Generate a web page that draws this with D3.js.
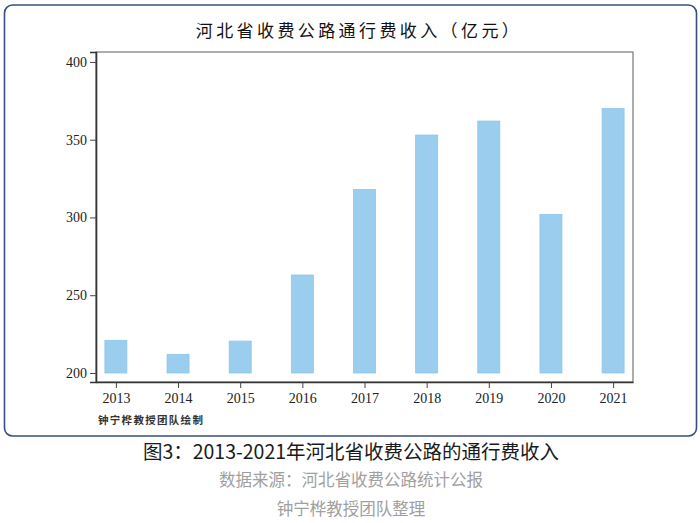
<!doctype html>
<html lang="zh">
<head>
<meta charset="utf-8">
<script src="https://cdn.jsdelivr.net/npm/d3@7"></script>
<style>
    body { margin: 0; background: #fff; }
    svg { display: block; }
    .tick text { font-family: "Liberation Serif", "DejaVu Serif", serif; font-size: 14px; fill: #222; }
</style>
</head>
<body>
<div id="chart"></div>
<script>
    // data
    var years = ["2013", "2014", "2015", "2016", "2017", "2018", "2019", "2020", "2021"];
    var revenue = [221, 212, 220.5, 263, 318, 353, 362, 302, 370];
    var yTicks = [200, 250, 300, 350, 400];

    var W = 700, H = 523;
    var plot = {left: 96, right: 633, top: 52, bottom: 382};

    var svg = d3.select("#chart").append("svg")
        .attr("width", W)
        .attr("height", H);

    // outer rounded frame
    svg.append("rect")
        .attr("x", 4.5).attr("y", 5)
        .attr("width", 692).attr("height", 431)
        .attr("rx", 8).attr("ry", 8)
        .attr("fill", "none")
        .attr("stroke", "#3b4f7c")
        .attr("stroke-width", 1.6);

    svg.append("text")
        .attr("x", 359).attr("y", 37)
        .attr("text-anchor", "middle")
        .attr("font-family", "Noto Sans CJK SC")
        .attr("font-size", 17)
        .attr("letter-spacing", 3.4)
        .attr("fill", "#111")
        .text("河北省收费公路通行费收入（亿元）");

    var x = d3.scalePoint()
        .domain(years)
        .range([plot.left, plot.right])
        .padding(0.32);

    var y = d3.scaleLinear()
        .domain([194.2, 406.4])
        .range([plot.bottom, plot.top]);

    // plot box: top/right lighter
    svg.append("rect")
        .attr("x", plot.left).attr("y", plot.top)
        .attr("width", plot.right - plot.left)
        .attr("height", plot.bottom - plot.top)
        .attr("fill", "none")
        .attr("stroke", "#777")
        .attr("stroke-width", 1.2);

    svg.append("g")
        .selectAll("rect")
        .data(revenue)
        .join("rect")
        .attr("x", (d, i) => x(years[i]) - 11)
        .attr("y", d => y(d))
        .attr("width", 22)
        .attr("height", d => y(200) - y(d))
        .attr("fill", "#9bcdee")
        .attr("stroke", "#8ec4ea")
        .attr("stroke-width", 0.8);

    var yAxis = svg.append("g")
        .attr("transform", "translate(" + plot.left + ",0)")
        .call(d3.axisLeft(y).tickValues(yTicks).tickSize(6).tickPadding(3));
    yAxis.select(".domain").attr("stroke", "#333").attr("stroke-width", 1.6);
    yAxis.selectAll(".tick line").attr("stroke", "#444");

    var xAxis = svg.append("g")
        .attr("transform", "translate(0," + plot.bottom + ")")
        .call(d3.axisBottom(x).tickSize(6).tickPadding(5).tickSizeOuter(0));
    xAxis.select(".domain").attr("stroke", "#333").attr("stroke-width", 1.6);
    xAxis.selectAll(".tick line").attr("stroke", "#444");

    svg.append("text")
        .attr("x", 98).attr("y", 424)
        .attr("font-family", "Noto Sans CJK SC")
        .attr("font-weight", "bold")
        .attr("font-size", 10.5)
        .attr("letter-spacing", 1.3)
        .attr("fill", "#333")
        .text("钟宁桦教授团队绘制");

    svg.append("text")
        .attr("x", 351).attr("y", 459)
        .attr("text-anchor", "middle")
        .attr("font-family", "Noto Sans CJK SC")
        .attr("font-size", 19.5)
        .attr("fill", "#1a1a1a")
        .text("图3：2013-2021年河北省收费公路的通行费收入");

    svg.append("text")
        .attr("x", 351).attr("y", 486)
        .attr("text-anchor", "middle")
        .attr("font-family", "Noto Sans CJK SC")
        .attr("font-size", 16.5)
        .attr("fill", "#a0a0a0")
        .text("数据来源：河北省收费公路统计公报");

    svg.append("text")
        .attr("x", 351).attr("y", 515)
        .attr("text-anchor", "middle")
        .attr("font-family", "Noto Sans CJK SC")
        .attr("font-size", 16.5)
        .attr("fill", "#a0a0a0")
        .text("钟宁桦教授团队整理");
</script>
</body>
</html>
